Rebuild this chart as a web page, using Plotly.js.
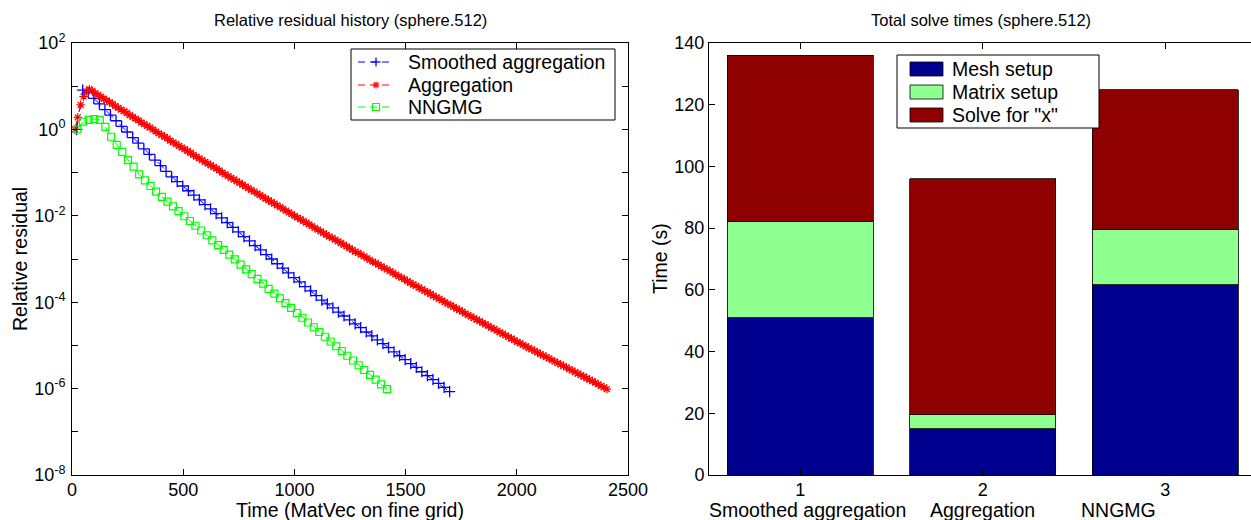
<!DOCTYPE html>
<html><head><meta charset="utf-8">
<script src="https://cdn.plot.ly/plotly-3.0.1.min.js"></script>
<style>html,body{margin:0;padding:0;background:#fff}#chart{width:1251px;height:520px}</style>
</head><body><div id="chart"></div>
<script>
// ---- Left panel: relative residual history (log10 of residual) ----
const saX = [21,48,73,98,123,148,173,198,223,248,273,298,323,348,373,398,423,448,473,498,523,548,573,598,623,648,673,698,723,748,773,798,823,848,873,898,923,948,973,998,1023,1048,1073,1098,1123,1148,1173,1198,1223,1248,1273,1298,1323,1348,1373,1398,1423,1448,1473,1498,1523,1548,1573,1598,1623,1648,1673,1698];
const saLog10Res = [0,0.91,0.85,0.72,0.59,0.46,0.33,0.20,0.07,-0.06,-0.19,-0.32,-0.45,-0.58,-0.71,-0.84,-0.97,-1.10,-1.21,-1.31,-1.42,-1.52,-1.63,-1.74,-1.84,-1.95,-2.05,-2.16,-2.27,-2.37,-2.48,-2.58,-2.69,-2.79,-2.90,-3.00,-3.11,-3.21,-3.32,-3.43,-3.53,-3.64,-3.74,-3.85,-3.95,-4.04,-4.13,-4.23,-4.32,-4.41,-4.50,-4.59,-4.69,-4.78,-4.87,-4.96,-5.05,-5.15,-5.24,-5.33,-5.42,-5.51,-5.61,-5.70,-5.79,-5.88,-5.97,-6.07];

const aggX = [13,26,39,52,65,78,91,104,117,130,143,156,169,182,195,208,221,234,247,260,273,286,299,312,325,338,351,364,377,390,403,416,429,442,455,468,481,494,507,520,533,546,559,572,585,598,611,624,637,650,663,676,689,702,715,728,741,754,767,780,793,806,819,832,845,858,871,884,897,910,923,936,949,962,975,988,1001,1014,1027,1040,1053,1066,1079,1092,1105,1118,1131,1144,1157,1170,1183,1196,1209,1222,1235,1248,1261,1274,1287,1300,1313,1326,1339,1352,1365,1378,1391,1404,1417,1430,1443,1456,1469,1482,1495,1508,1521,1534,1547,1560,1573,1586,1599,1612,1625,1638,1651,1664,1677,1690,1703,1716,1729,1742,1755,1768,1781,1794,1807,1820,1833,1846,1859,1872,1885,1898,1911,1924,1937,1950,1963,1976,1989,2002,2015,2028,2041,2054,2067,2080,2093,2106,2119,2132,2145,2158,2171,2184,2197,2210,2223,2236,2249,2262,2275,2288,2301,2314,2327,2340,2353,2366,2379,2392,2405];
const aggLog10Res = [0.00,0.28,0.57,0.76,0.88,
0.93,0.89,0.84,0.80,0.76,0.71,0.67,0.63,0.59,0.54,
0.50,0.46,0.42,0.38,0.33,0.29,0.25,0.21,0.16,0.12,
0.08,0.04,0.00,-0.05,-0.09,-0.13,-0.17,-0.21,-0.26,-0.30,
-0.34,-0.38,-0.42,-0.46,-0.50,-0.54,-0.59,-0.63,-0.67,-0.71,
-0.75,-0.79,-0.83,-0.87,-0.91,-0.95,-1.00,-1.04,-1.08,-1.12,
-1.16,-1.20,-1.24,-1.28,-1.32,-1.36,-1.40,-1.44,-1.48,-1.52,
-1.56,-1.60,-1.64,-1.68,-1.72,-1.76,-1.80,-1.84,-1.88,-1.92,
-1.96,-2.00,-2.04,-2.08,-2.12,-2.16,-2.20,-2.24,-2.28,-2.32,
-2.36,-2.40,-2.44,-2.48,-2.51,-2.55,-2.59,-2.63,-2.67,-2.71,
-2.75,-2.79,-2.83,-2.86,-2.90,-2.94,-2.98,-3.02,-3.06,-3.09,
-3.13,-3.17,-3.21,-3.24,-3.28,-3.32,-3.36,-3.40,-3.43,-3.47,
-3.51,-3.55,-3.59,-3.62,-3.66,-3.70,-3.74,-3.77,-3.81,-3.85,
-3.89,-3.92,-3.96,-4.00,-4.04,-4.07,-4.11,-4.15,-4.18,-4.22,
-4.26,-4.30,-4.33,-4.37,-4.40,-4.44,-4.48,-4.51,-4.55,-4.59,
-4.62,-4.66,-4.70,-4.73,-4.77,-4.81,-4.84,-4.88,-4.92,-4.95,
-4.99,-5.02,-5.06,-5.09,-5.13,-5.16,-5.20,-5.23,-5.27,-5.30,
-5.34,-5.37,-5.41,-5.44,-5.48,-5.51,-5.55,-5.58,-5.62,-5.65,
-5.69,-5.72,-5.76,-5.79,-5.83,-5.86,-5.90,-5.94,-5.97,-6.01];

const nnX = [24,49,75,100,125,150,176,201,226,252,277,302,328,353,378,404,429,454,479,505,530,555,581,606,631,657,682,707,732,758,783,808,834,859,884,910,935,960,985,1011,1036,1061,1087,1112,1137,1163,1188,1213,1238,1264,1289,1314,1340,1365,1390,1416];
const nnLog10Res = [0.00,0.18,0.22,0.24,0.22,0.06,-0.17,-0.36,-0.52,-0.71,-0.86,
-1.04,-1.18,-1.31,-1.44,-1.56,-1.67,-1.78,-1.89,-2.01,-2.12,-2.23,-2.34,-2.45,-2.57,-2.68,-2.79,-2.90,-3.01,-3.13,-3.24,-3.35,-3.46,-3.57,-3.69,-3.80,-3.91,-4.02,-4.13,-4.25,-4.36,-4.47,-4.58,-4.69,-4.80,-4.91,-5.02,-5.13,-5.24,-5.35,-5.46,-5.57,-5.68,-5.79,-5.90,-6.01];

const seriesNames = ['Smoothed aggregation','Aggregation','NNGMG'];
const seriesColors = ['#0000ff','#ff0000','#00ff00'];
const xTickVals = [0,500,1000,1500,2000,2500];
const yTickExps = [-8,-7,-6,-5,-4,-3,-2,-1,0,1,2];

// ---- Right panel: total solve times ----
const solverIdx = [1,2,3];
const solverTickLabels = ['1','2','3'];
const solverNames = ['Smoothed aggregation','Aggregation','NNGMG'];
const phaseNames = ['Mesh setup','Matrix setup','Solve for "x"'];
const phaseColors = ['#00008f','#8fff8f','#8f0000'];
const meshSetup = [51.0,15.0,61.7];
const matrixSetup = [31.3,4.6,18.0];
const solveX = [53.7,76.4,45.1];
const timeTickVals = [0,20,40,60,80,100,120,140];

// ---- drawing ----
const W = 1251, H = 520;
const fx = p => p / W, fy = p => 1 - p / H;
const FONT = 'Liberation Sans, Arial, Helvetica, sans-serif';
const pow10 = a => a.map(v => Math.pow(10, v));

const traces = [
  {x: saX, y: pow10(saLog10Res), name: seriesNames[0], type: 'scatter', mode: 'lines+markers', showlegend: false,
   line: {color: seriesColors[0], dash: 'dash', width: 1},
   marker: {symbol: 'cross-thin', size: 8, color: seriesColors[0], line: {color: seriesColors[0], width: 1.3}},
   xaxis: 'x', yaxis: 'y'},
  {x: aggX, y: pow10(aggLog10Res), name: seriesNames[1], type: 'scatter', mode: 'lines+markers', showlegend: false,
   line: {color: seriesColors[1], dash: 'dash', width: 1},
   marker: {symbol: 'asterisk', size: 7, color: seriesColors[1], line: {color: seriesColors[1], width: 1.2}},
   xaxis: 'x', yaxis: 'y'},
  {x: nnX, y: pow10(nnLog10Res), name: seriesNames[2], type: 'scatter', mode: 'lines+markers', showlegend: false,
   line: {color: seriesColors[2], dash: 'dash', width: 1},
   marker: {symbol: 'square-open', size: 7, color: seriesColors[2], line: {color: seriesColors[2], width: 1.2}},
   xaxis: 'x', yaxis: 'y'},
  {x: solverIdx, y: meshSetup, name: phaseNames[0], type: 'bar', width: 0.8, showlegend: false,
   marker: {color: phaseColors[0], line: {color: '#000', width: 0.8}}, xaxis: 'x2', yaxis: 'y2'},
  {x: solverIdx, y: matrixSetup, name: phaseNames[1], type: 'bar', width: 0.8, showlegend: false,
   marker: {color: phaseColors[1], line: {color: '#000', width: 0.8}}, xaxis: 'x2', yaxis: 'y2'},
  {x: solverIdx, y: solveX, name: phaseNames[2], type: 'bar', width: 0.8, showlegend: false,
   marker: {color: phaseColors[2], line: {color: '#000', width: 0.8}}, xaxis: 'x2', yaxis: 'y2'}
];

const axCommon = {showline: true, linecolor: '#000', linewidth: 1, mirror: 'allticks', ticks: 'inside',
  ticklen: 6, tickcolor: '#000', tickwidth: 1, showgrid: false, zeroline: false,
  tickfont: {family: FONT, size: 18, color: '#000'}};

const yDom = [fy(475), fy(43)];
const LBL = 19.5, TTL = 16.5;
function ann(text, x, y, opts) {
  return Object.assign({text: text, x: fx(x), y: fy(y), xref: 'paper', yref: 'paper', showarrow: false,
    xanchor: 'center', yanchor: 'middle', font: {family: FONT, size: LBL, color: '#000'}}, opts || {});
}
function seg(x0, y0, x1, y1, color, w, dash) {
  return {type: 'line', xref: 'paper', yref: 'paper', x0: fx(x0), y0: fy(y0), x1: fx(x1), y1: fy(y1),
    line: {color: color, width: w, dash: dash || 'solid'}, layer: 'above'};
}
function box(x0, y0, x1, y1, fill, w) {
  return {type: 'rect', xref: 'paper', yref: 'paper', x0: fx(x0), y0: fy(y1), x1: fx(x1), y1: fy(y0),
    line: {color: '#000', width: w}, fillcolor: fill, layer: 'above'};
}

// left legend (drawn as a MATLAB-style box)
const legRows = [62, 85, 107];
const legShapes = [box(351, 49, 615, 120, '#fff', 1)];
legRows.forEach((yy, i) => {
  legShapes.push(seg(358, yy, 393, yy, seriesColors[i], 1, '7px,5px'));
});
legShapes.push(seg(371.5, legRows[0], 380.5, legRows[0], seriesColors[0], 1.3));
legShapes.push(seg(376, legRows[0] - 4.5, 376, legRows[0] + 4.5, seriesColors[0], 1.3));
legShapes.push(seg(372.5, legRows[1], 379.5, legRows[1], seriesColors[1], 1.2));
legShapes.push(seg(376, legRows[1] - 3.5, 376, legRows[1] + 3.5, seriesColors[1], 1.2));
legShapes.push(seg(373.5, legRows[1] - 2.5, 378.5, legRows[1] + 2.5, seriesColors[1], 1.2));
legShapes.push(seg(373.5, legRows[1] + 2.5, 378.5, legRows[1] - 2.5, seriesColors[1], 1.2));
legShapes.push({type: 'rect', xref: 'paper', yref: 'paper', x0: fx(372.5), x1: fx(379.5), y0: fy(legRows[2] + 3.5), y1: fy(legRows[2] - 3.5),
  line: {color: seriesColors[2], width: 1.2}, fillcolor: 'rgba(0,0,0,0)', layer: 'above'});

// right legend
const barRows = [69, 92, 115];
const barShapes = [box(897, 55, 1099, 128, '#fff', 1)];
barRows.forEach((yy, i) => barShapes.push(box(910, yy - 7, 943, yy + 7, phaseColors[i], 0.8)));

const layout = {
  width: W, height: H, margin: {l: 0, r: 0, t: 0, b: 0},
  paper_bgcolor: '#fff', plot_bgcolor: '#fff', barmode: 'stack', bargap: 0.2,
  font: {family: FONT, color: '#000'}, showlegend: false,
  xaxis: Object.assign({}, axCommon, {domain: [fx(72), fx(628)], range: [0, 2500], tickvals: xTickVals, anchor: 'y', ticklabelstandoff: -2}),
  yaxis: Object.assign({}, axCommon, {domain: yDom, type: 'log', range: [-8, 2], anchor: 'x',
    tickvals: yTickExps.map(e => Math.pow(10, e)),
    ticktext: yTickExps.map(e => (e % 2 === 0 ? '10<sup>' + (e < 0 ? '-' + (-e) : e) + '</sup>' : '')),
    ticklabelstandoff: 2}),
  xaxis2: Object.assign({}, axCommon, {domain: [fx(709), 1], range: [0.5, 3.47], tickvals: solverIdx, ticktext: solverTickLabels, anchor: 'y2', ticklabelstandoff: -2}),
  yaxis2: Object.assign({}, axCommon, {domain: yDom, range: [0, 140], tickvals: timeTickVals, anchor: 'x2', mirror: false}),
  annotations: [
    ann('Relative residual history (sphere.512)', 350, 20, {font: {family: FONT, size: TTL, color: '#000'}}),
    ann('Total solve times (sphere.512)', 981, 20, {font: {family: FONT, size: TTL, color: '#000'}}),
    ann('Time (MatVec on fine grid)', 350, 510),
    ann('Relative residual', 20, 259, {textangle: -90}),
    ann('Time (s)', 660, 259, {textangle: -90}),
    ann(solverNames[0], 807, 510),
    ann(solverNames[1], 982, 510),
    ann(solverNames[2], 1118, 510),
    ann(seriesNames[0], 406, legRows[0], {xanchor: 'left'}),
    ann(seriesNames[1], 406, legRows[1], {xanchor: 'left'}),
    ann(seriesNames[2], 406, legRows[2], {xanchor: 'left'}),
    ann(phaseNames[0], 950, barRows[0], {xanchor: 'left'}),
    ann(phaseNames[1], 950, barRows[1], {xanchor: 'left'}),
    ann(phaseNames[2], 950, barRows[2], {xanchor: 'left'})
  ],
  shapes: legShapes.concat(barShapes)
};

Plotly.newPlot('chart', traces, layout, {displayModeBar: false, staticPlot: true});
</script>
</body></html>
